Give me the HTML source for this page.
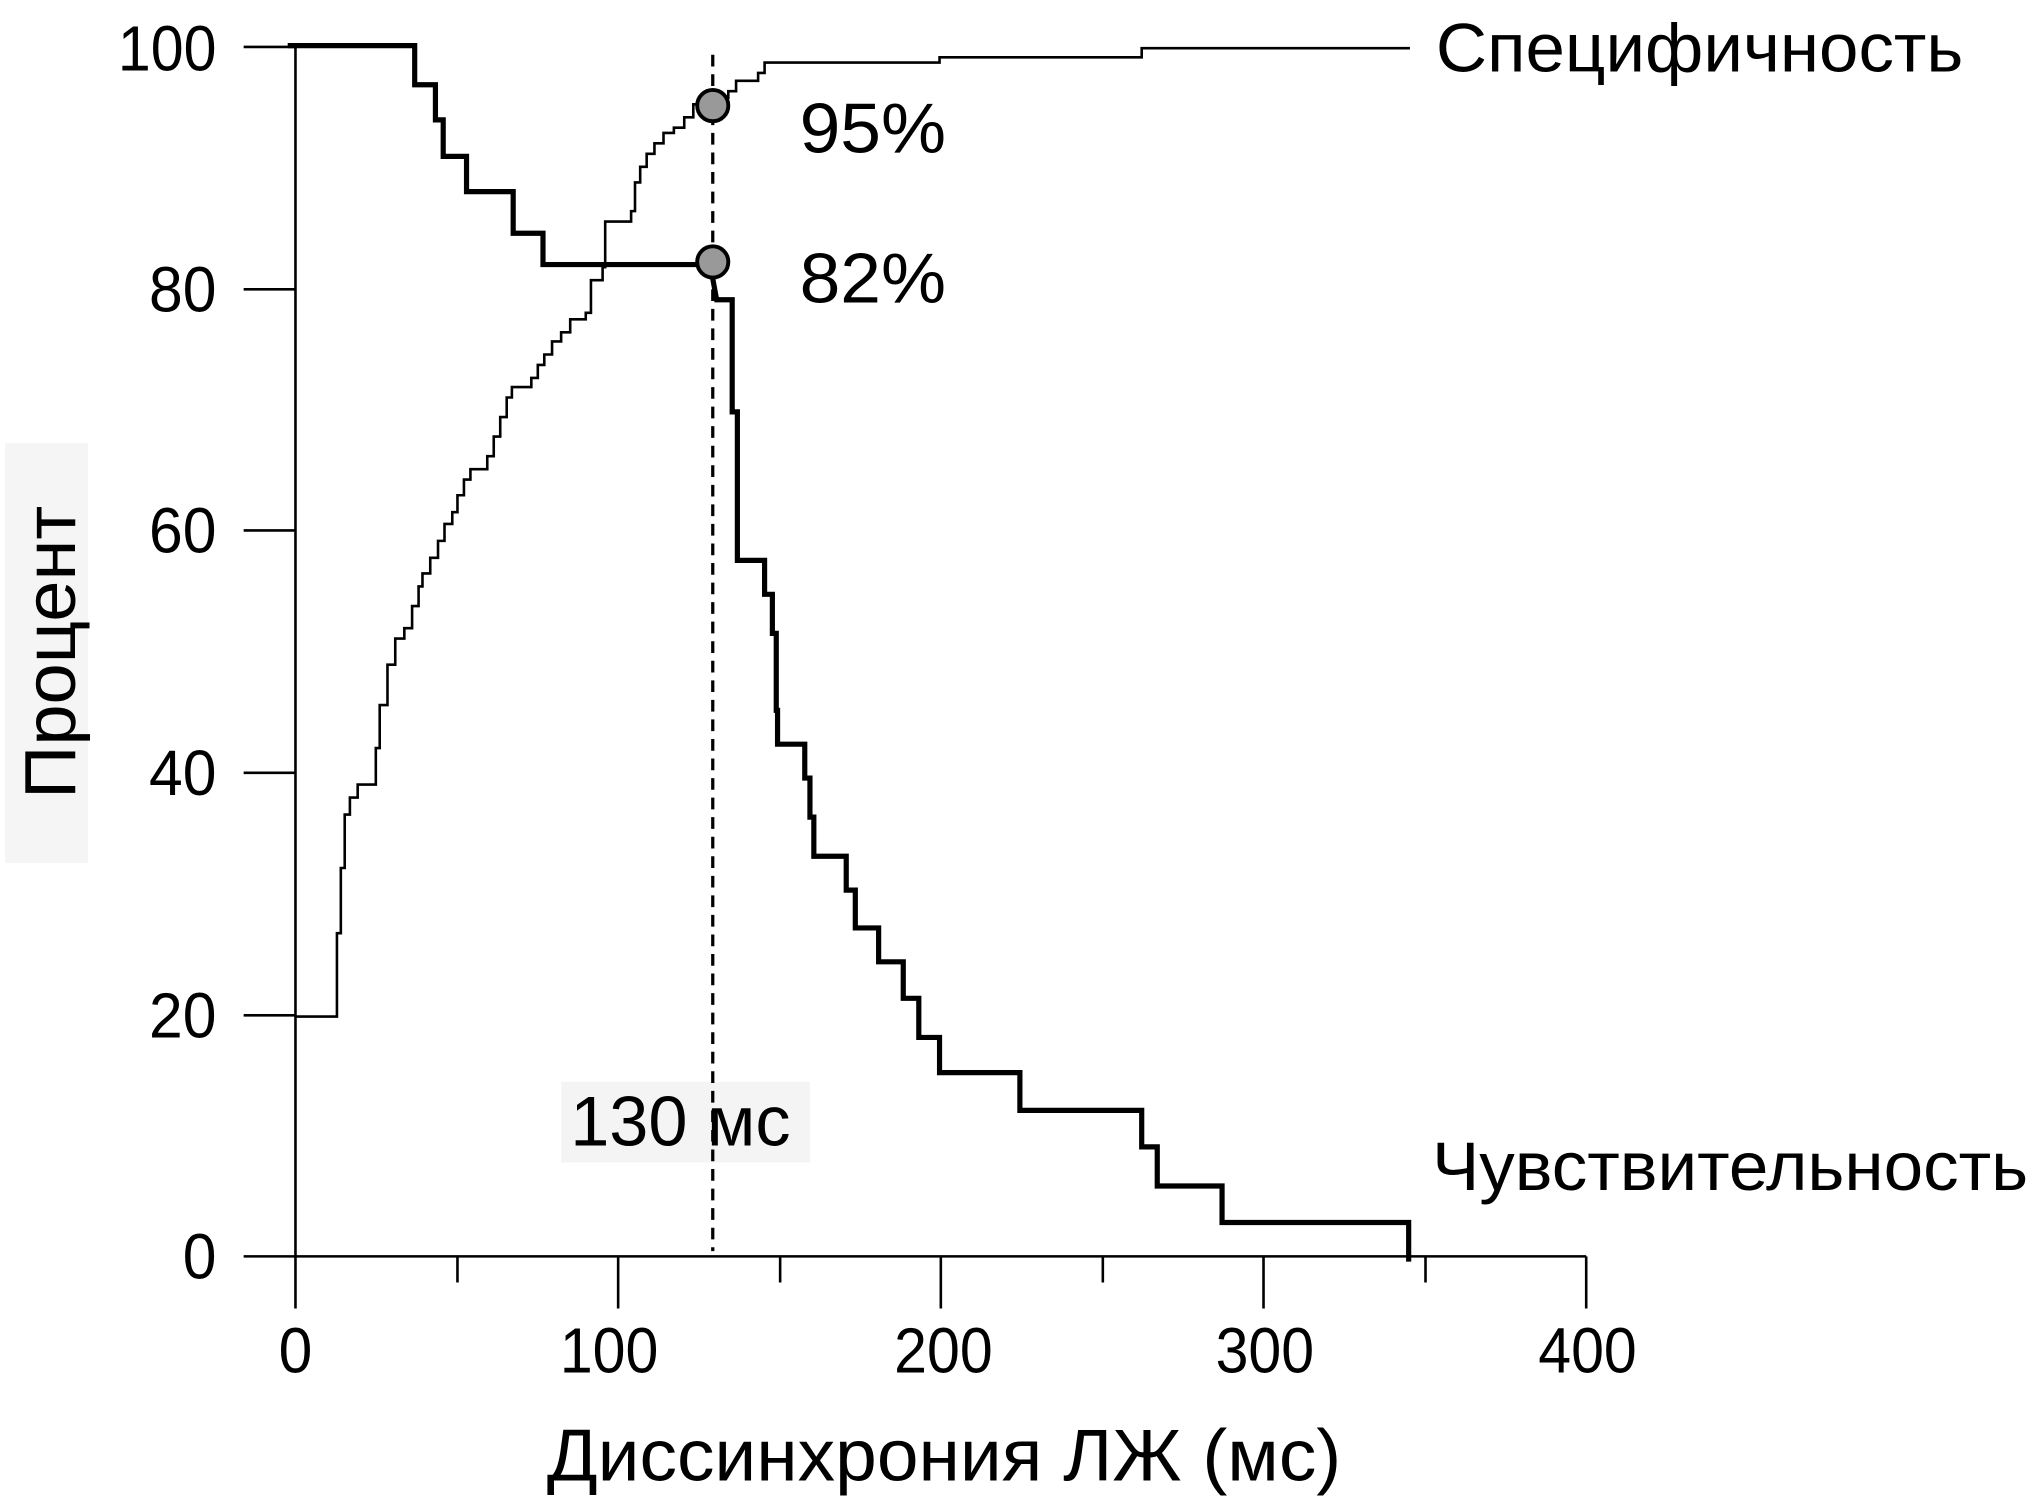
<!DOCTYPE html>
<html><head><meta charset="utf-8"><style>html,body{margin:0;padding:0;background:#fff}svg{display:block}</style></head>
<body>
<svg width="2032" height="1504" viewBox="0 0 1568 1154" preserveAspectRatio="none" xmlns="http://www.w3.org/2000/svg" font-family="'Liberation Sans', 'DejaVu Sans', sans-serif">
<rect x="4" y="340" width="64" height="322" fill="#f5f5f5"/>
<rect x="433" y="830" width="192" height="62" fill="#f4f4f4"/>
<g stroke="#000" stroke-width="2" fill="none">
<path d="M228 36 V964 H1224"/>
<path d="M188 36 H228 M188 222 H228 M188 407 H228 M188 593 H228 M188 779 H228 M188 964 H228"/>
<path d="M228 964 V1004 M353 964 V984 M477 964 V1004 M602 964 V984 M726 964 V1004 M851 964 V984 M975 964 V1004 M1100 964 V984 M1224 964 V1004"/>
</g>
<path d="M550 42 V960" stroke="#000" stroke-width="2.5" stroke-dasharray="9,6" fill="none"/>
<path d="M228 780 H260 V716 H263 V666 H266 V625 H270 V612 H276 V602 H290 V574 H293 V541 H299 V510 H305 V490 H312 V482 H318 V465 H323 V450 H326 V440 H332 V428 H338 V415 H343 V402 H349 V393 H353 V380 H358 V368 H363 V360 H376 V350 H381 V335 H386 V320 H391 V305 H395 V297 H410 V290 H415 V280 H420 V272 H426 V262 H433 V255 H440 V245 H452 V240 H456 V215 H465 V205 H467 V170 H487 V162 H490 V140 H494 V128 H499 V118 H505 V110 H512 V102 H520 V98 H528 V90 H535 V80 H548 V75 H562 V70 H568 V62 H585 V56 H590 V48 H725 V44 H881 V37 H1088" stroke="#000" stroke-width="2" fill="none"/>
<path d="M222 35 H320 V65 H336 V92 H342 V120 H360 V147 H396 V179 H419 V203 H548 L553 230 H565 V316 H569 V430 H590 V456 H596 V486 H599 V545 H600 V571 H621 V597 H625 V627 H628 V657 H653 V683 H660 V712 H678 V738 H697 V766 H709 V796 H725 V823 H787 V852 H881 V880 H893 V910 H943 V938 H1087 V968" stroke="#000" stroke-width="4" fill="none"/>
<circle cx="550" cy="81" r="12" fill="#999" stroke="#000" stroke-width="3"/>
<circle cx="550" cy="201" r="12" fill="#999" stroke="#000" stroke-width="3"/>
<g font-size="49" fill="#000" text-anchor="end">
<text x="167" y="54" textLength="76" lengthAdjust="spacingAndGlyphs">100</text>
<text x="167" y="239" textLength="52" lengthAdjust="spacingAndGlyphs">80</text>
<text x="167" y="424" textLength="52" lengthAdjust="spacingAndGlyphs">60</text>
<text x="167" y="610" textLength="52" lengthAdjust="spacingAndGlyphs">40</text>
<text x="167" y="796" textLength="52" lengthAdjust="spacingAndGlyphs">20</text>
<text x="167" y="981" textLength="26" lengthAdjust="spacingAndGlyphs">0</text>
</g>
<g font-size="49" fill="#000" text-anchor="middle">
<text x="228" y="1053" textLength="26" lengthAdjust="spacingAndGlyphs">0</text>
<text x="470" y="1053" textLength="76" lengthAdjust="spacingAndGlyphs">100</text>
<text x="728" y="1053" textLength="76" lengthAdjust="spacingAndGlyphs">200</text>
<text x="976" y="1053" textLength="76" lengthAdjust="spacingAndGlyphs">300</text>
<text x="1225" y="1053" textLength="76" lengthAdjust="spacingAndGlyphs">400</text>
</g>
<text x="422" y="1136" font-size="56" textLength="613" lengthAdjust="spacingAndGlyphs">Диссинхрония ЛЖ (мс)</text>
<text transform="translate(58,613) rotate(-90)" font-size="56" textLength="225" lengthAdjust="spacingAndGlyphs">Процент</text>
<text x="1108" y="55" font-size="53" textLength="407" lengthAdjust="spacingAndGlyphs">Специфичность</text>
<text x="1105" y="913" font-size="53" textLength="460" lengthAdjust="spacingAndGlyphs">Чувствительность</text>
<text x="617" y="117" font-size="54" textLength="113" lengthAdjust="spacingAndGlyphs">95%</text>
<text x="617" y="232" font-size="54" textLength="113" lengthAdjust="spacingAndGlyphs">82%</text>
<text x="440" y="879" font-size="54" textLength="170" lengthAdjust="spacingAndGlyphs">130 мс</text>
</svg>
</body></html>
